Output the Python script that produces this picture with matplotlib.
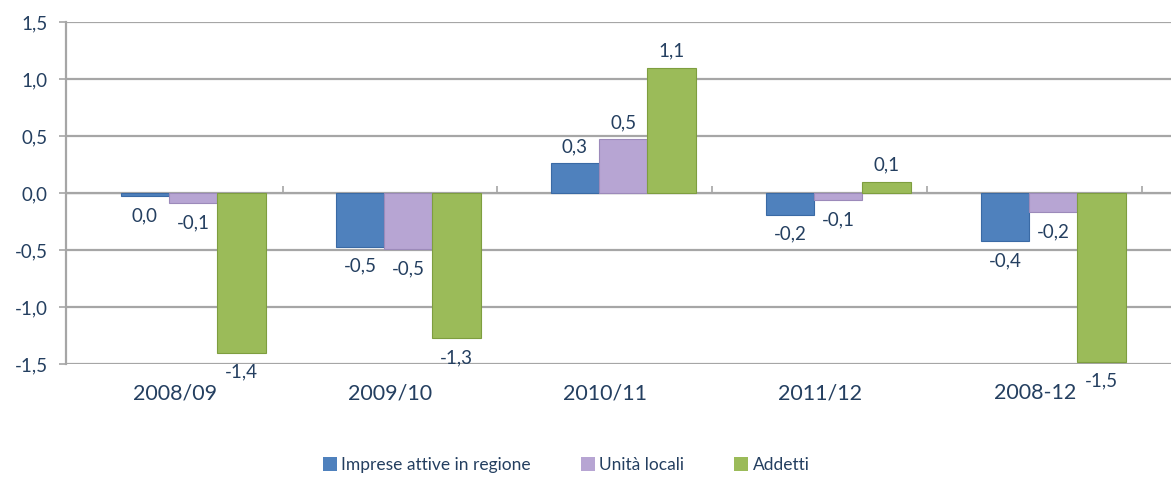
import matplotlib
matplotlib.use("Agg")
import matplotlib.pyplot as plt
from matplotlib.patches import Patch
import numpy as np

plt.rcParams['font.family'] = ['Lato', 'DejaVu Sans']

categories = ["2008/09", "2009/10", "2010/11", "2011/12", "2008-12"]
series_names = ["Imprese attive in regione", "Unità locali", "Addetti"]
imprese = [-0.03, -0.47, 0.26, -0.19, -0.42]
unita = [-0.09, -0.49, 0.47, -0.06, -0.17]
addetti = [-1.40, -1.27, 1.10, 0.10, -1.48]
yticks = [-1.5, -1.0, -0.5, 0.0, 0.5, 1.0, 1.5]

colors = ["#4F81BD", "#B7A5D3", "#9BBB59"]
edges = ["#3A6AA5", "#9C8ABA", "#7E9E3F"]
text_col = "#243F60"
grid_col = "#A6A6A6"


def fmt(v):
    s = f"{v:.1f}"
    if s == "-0.0":
        s = "0.0"
    return s.replace(".", ",")


fig = plt.figure(figsize=(11.71, 4.8), dpi=100)
ax = fig.add_axes([0.0564, 0.2417, 0.9436, 0.7123])

x = np.arange(len(categories))
offsets = [-0.14, 0.085, 0.31]
width = 0.225

for vals, off, c, ec in zip([imprese, unita, addetti], offsets, colors, edges):
    bars = ax.bar(x + off, vals, width, color=c, edgecolor=ec, linewidth=0.8, zorder=3)
    for b, v in zip(bars, vals):
        xc = b.get_x() + b.get_width() / 2
        if v >= 0:
            ax.annotate(fmt(v), (xc, v), xytext=(0, 6), textcoords="offset points",
                        ha="center", va="bottom", fontsize=13.5, color=text_col)
        else:
            ax.annotate(fmt(v), (xc, v), xytext=(0, -8), textcoords="offset points",
                        ha="center", va="top", fontsize=13.5, color=text_col)

ax.set_ylim(-1.5, 1.5)
ax.set_xlim(-0.507, 4.633)
ax.set_yticks(yticks)
ax.set_yticklabels([fmt(t) for t in yticks], fontsize=13.5, color=text_col)
ax.yaxis.grid(True, color=grid_col, linewidth=1.6, zorder=0)
ax.set_axisbelow(True)
ax.tick_params(axis="y", length=5, width=1.2, color=grid_col, pad=8)

ax.set_xticks(x)
ax.set_xticklabels(categories, fontsize=15.5, color=text_col)
ax.tick_params(axis="x", length=0, pad=14)

for side in ["top", "right", "bottom"]:
    ax.spines[side].set_visible(False)
ax.spines["left"].set_color(grid_col)
ax.spines["left"].set_linewidth(1.6)

# category axis drawn at zero, with tick marks between groups
sec = ax.secondary_xaxis(0.5)
sec.set_xticks(x + 0.5)
sec.set_xticklabels([])
sec.tick_params(axis="x", length=5, width=1.2, color=grid_col, direction="out")
sec.spines["bottom"].set_color(grid_col)
sec.spines["bottom"].set_linewidth(1.6)

handles = [Patch(facecolor=c, edgecolor="none") for c in colors]
fig.legend(handles, series_names, loc="center", bbox_to_anchor=(0.4834, 0.031),
           ncol=3, frameon=False, fontsize=12.5, labelcolor=text_col,
           handlelength=0.8, handleheight=0.8, handletextpad=0.25, columnspacing=2.9)

fig.savefig("out.png", dpi=100)
